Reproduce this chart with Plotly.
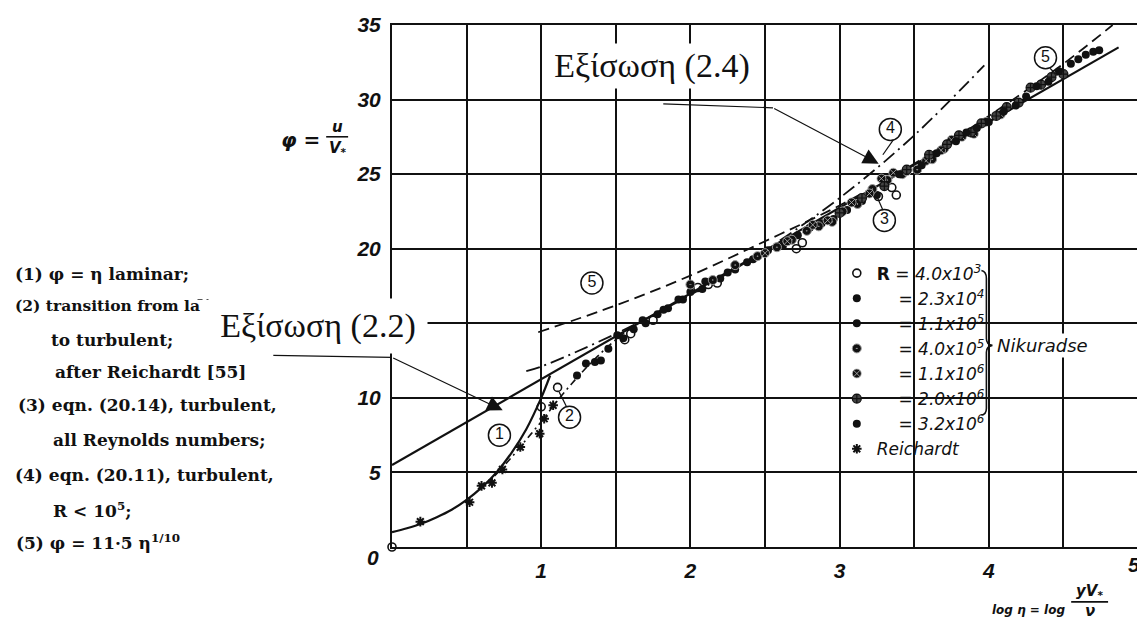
import plotly.graph_objects as go

# ------------------------------------------------------------------ data
# theory curves
lam_x = [0.0, 0.1, 0.2, 0.3, 0.4, 0.5, 0.6, 0.7, 0.8, 0.9, 1.0, 1.06]          # (1) laminar
lam_y = [1.0, 1.26, 1.58, 2.0, 2.5, 3.16, 3.98, 5.0, 6.3, 7.9, 10.0, 11.5]
tr_x = [0.6, 0.7, 0.8, 0.9, 1.0, 1.1, 1.2, 1.3, 1.4, 1.5, 1.6]                # (2) transition
tr_y = [4.0, 4.9, 6.0, 7.2, 8.4, 9.7, 10.9, 12.0, 13.0, 13.9, 14.7]
log_x = [0.0, 4.87]                                                            # (3) log law
log_y = [5.5, 33.5]
p7_x = [0.9, 1.0, 1.5, 2.0, 2.5, 3.0, 3.5, 3.97]                               # (4) 1/7 law
p7_y = [11.8, 12.1, 14.3, 16.9, 19.9, 23.4, 27.6, 32.3]
p10_x = [0.98, 1.5, 2.0, 2.5, 3.0, 3.5, 4.0, 4.5, 4.83]                        # (5) 1/10 law
p10_y = [14.4, 16.2, 18.2, 20.5, 22.9, 25.7, 28.9, 32.4, 35.0]

# measured points
r40e3_x = [0.0, 1.0, 1.11, 1.56, 1.6, 1.75, 2.05, 2.12, 2.18, 2.71, 2.75, 3.26, 3.3, 3.35, 3.38]
r40e3_y = [0.0, 9.4, 10.7, 13.9, 14.3, 15.2, 17.4, 17.6, 17.7, 20.0, 20.4, 23.5, 24.3, 24.1, 23.6]
r23e4_x = [1.24, 1.30, 1.36, 1.45, 1.51, 1.62, 1.70, 1.78, 1.85, 1.92, 2.0, 2.08, 2.2, 2.3, 2.42, 2.52]
r23e4_y = [11.5, 12.3, 12.4, 13.3, 14.2, 14.6, 15.0, 15.6, 16.0, 16.6, 17.1, 17.3, 18.0, 18.6, 19.3, 19.9]
r11e5_x = [1.4, 1.55, 1.68, 1.82, 1.95, 2.1, 2.25, 2.38, 2.5, 2.62, 2.72, 2.8, 2.88, 2.96, 3.05, 3.15, 3.25]
r11e5_y = [12.5, 14.0, 15.2, 15.9, 16.6, 17.8, 18.4, 19.1, 19.8, 20.2, 20.9, 21.4, 21.7, 22.0, 22.6, 23.2, 23.6]
r40e5_x = [2.0, 2.15, 2.3, 2.45, 2.58, 2.68, 2.78, 2.86, 2.95, 3.02, 3.12, 3.22, 3.32, 3.42, 3.52, 3.62, 3.7]
r40e5_y = [17.6, 17.9, 18.9, 19.5, 20.1, 20.6, 21.2, 21.5, 21.8, 22.5, 23.0, 24.0, 24.6, 25.0, 25.3, 26.0, 26.7]
r11e6_x = [2.5, 2.65, 2.82, 2.92, 3.08, 3.2, 3.28, 3.36, 3.45, 3.58, 3.68, 3.75, 3.82, 3.9, 3.98, 4.08]
r11e6_y = [19.7, 20.5, 21.6, 21.9, 23.1, 23.7, 24.7, 25.1, 25.2, 25.9, 26.6, 27.3, 27.5, 27.7, 28.5, 29.0]
r20e6_x = [3.0, 3.15, 3.3, 3.45, 3.6, 3.72, 3.8, 3.88, 3.95, 4.05, 4.12, 4.2, 4.28, 4.35, 4.42, 4.5]
r20e6_y = [22.4, 23.4, 24.2, 25.3, 26.3, 27.0, 27.6, 27.8, 28.4, 28.9, 29.5, 29.8, 30.8, 31.0, 31.5, 31.7]
r32e6_x = [3.4, 3.55, 3.65, 3.78, 3.85, 3.92, 4.0, 4.1, 4.18, 4.25, 4.32, 4.4, 4.47, 4.55, 4.6, 4.65, 4.7, 4.74]
r32e6_y = [25.0, 25.6, 26.4, 27.2, 27.8, 28.1, 28.5, 29.2, 29.6, 30.2, 30.9, 31.2, 31.9, 32.4, 32.7, 33.0, 33.2, 33.3]
reich_x = [0.19, 0.52, 0.60, 0.67, 0.74, 0.86, 0.99, 1.02, 1.08]
reich_y = [1.7, 3.0, 4.1, 4.3, 5.2, 6.7, 7.6, 8.6, 9.5]

series_names = [
    "<b><span style='font-style:normal'>R</span></b> = 4.0x10<sup>3</sup>",
    "\u00a0\u00a0\u00a0\u00a0= 2.3x10<sup>4</sup>",
    "\u00a0\u00a0\u00a0\u00a0= 1.1x10<sup>5</sup>",
    "\u00a0\u00a0\u00a0\u00a0= 4.0x10<sup>5</sup>",
    "\u00a0\u00a0\u00a0\u00a0= 1.1x10<sup>6</sup>",
    "\u00a0\u00a0\u00a0\u00a0= 2.0x10<sup>6</sup>",
    "\u00a0\u00a0\u00a0\u00a0= 3.2x10<sup>6</sup>",
    "Reichardt",
]

# circled curve labels
lab_text = ["1", "2", "3", "4", "5", "5"]
lab_x = [0.72, 1.19, 3.30, 3.34, 1.34, 4.38]
lab_y = [7.5, 8.7, 21.9, 28.0, 17.7, 32.8]

# axes ticks ("15" is hidden under the label box in the reference)
x_tick_vals = [0.5, 1.0, 1.5, 2.0, 2.5, 3.0, 3.5, 4.0, 4.5, 5.0]
x_tick_text = ["", "1", "", "2", "", "3", "", "4", "", ""]
y_tick_vals = [5, 10, 15, 20, 25, 30, 35]
y_tick_text = ["5", "10", "", "20", "25", "30", "35"]

left_lines = [
    "(1) \u03c6 = \u03b7 laminar;",
    "(2) transition from la",
    "to turbulent;",
    "after Reichardt [55]",
    "(3) eqn. (20.14), turbulent,",
    "all Reynolds numbers;",
    "(4) eqn. (20.11), turbulent,",
    "R < 10<sup>5</sup>;",
    "(5) \u03c6 = 11\u00b75 \u03b7<sup>1/10</sup>",
]

# ------------------------------------------------------------------ geometry
# the page body has an 8px margin, so the figure is made 8px smaller
OFF = 8
W, H = 1145 - OFF, 619 - OFF
L, T, R_, B = 392 - OFF, 24 - OFF, 5, 72
PW, PH = W - L - R_, H - T - B          # 748 x 523
X0, Y0 = 392, 547                       # window pixel of data (0, 0)


def PX(p):
    return (p - X0) / PW


def PY(p):
    return (Y0 - p) / PH


INK = "#111111"
fig = go.Figure()

# theory curves
fig.add_trace(go.Scatter(x=lam_x, y=lam_y, mode="lines", showlegend=False, hoverinfo="skip",
                         line=dict(color=INK, width=2.2, shape="spline")))
fig.add_trace(go.Scatter(x=tr_x, y=tr_y, mode="lines", showlegend=False, hoverinfo="skip",
                         line=dict(color=INK, width=1.6, dash="7px,4px,2px,4px", shape="spline")))
fig.add_trace(go.Scatter(x=log_x, y=log_y, mode="lines", showlegend=False, hoverinfo="skip",
                         line=dict(color=INK, width=2.2)))
fig.add_trace(go.Scatter(x=p7_x, y=p7_y, mode="lines", showlegend=False, hoverinfo="skip",
                         line=dict(color=INK, width=1.8, dash="14px,5px,2px,5px", shape="spline")))
fig.add_trace(go.Scatter(x=p10_x, y=p10_y, mode="lines", showlegend=False, hoverinfo="skip",
                         line=dict(color=INK, width=1.8, dash="11px,6px", shape="spline")))

# measured points
styles = [
    dict(symbol="circle-open", color=INK, size=8, line=dict(width=1.6, color=INK)),
    dict(symbol="circle", color=INK, size=8, line=dict(width=0)),
    dict(symbol="circle", color=INK, size=8, line=dict(width=0)),
    dict(symbol="circle-dot", color=INK, size=9, line=dict(width=1, color="#9a9a9a")),
    dict(symbol="circle-x", color=INK, size=9, line=dict(width=0.8, color="#bbbbbb")),
    dict(symbol="circle-cross", color="#444444", size=9, line=dict(width=1.2, color=INK)),
    dict(symbol="circle", color=INK, size=8, line=dict(width=0)),
    dict(symbol="asterisk-open", color=INK, size=8, line=dict(width=2, color=INK)),
]
xs = [r40e3_x, r23e4_x, r11e5_x, r40e5_x, r11e6_x, r20e6_x, r32e6_x, reich_x]
ys = [r40e3_y, r23e4_y, r11e5_y, r40e5_y, r11e6_y, r20e6_y, r32e6_y, reich_y]
for nm, sx, sy, st in zip(series_names, xs, ys, styles):
    fig.add_trace(go.Scatter(x=sx, y=sy, mode="markers", name=nm, marker=st, cliponaxis=False))

# circled labels
fig.add_trace(go.Scatter(x=lab_x, y=lab_y, mode="markers+text", text=lab_text, showlegend=False,
                         hoverinfo="skip", textposition="middle center",
                         marker=dict(symbol="circle", size=22, color="white", line=dict(width=1.5, color=INK)),
                         textfont=dict(family="Liberation Sans", size=16, color=INK)))

shapes = []
# white area behind the legend (hides the grid there)
shapes.append(dict(type="rect", xref="paper", yref="paper", x0=PX(838), x1=PX(1008), y0=PY(462), y1=PY(253),
                   fillcolor="white", line=dict(width=0), layer="between"))
# label leader lines (data coords)
for (a, b, c, d) in [(1.17, 9.4, 1.12, 10.4), (3.29, 22.6, 3.25, 23.5),
                     (3.36, 27.3, 3.29, 26.3), (4.41, 32.1, 4.46, 31.6)]:
    shapes.append(dict(type="line", xref="x", yref="y", x0=a, y0=b, x1=c, y1=d,
                       line=dict(color=INK, width=1.2), layer="above"))
# horizontal parts of the arrow leaders
for (a, b, c, d) in [(273, 355, 392, 357), (664, 103, 774, 107)]:
    shapes.append(dict(type="line", xref="paper", yref="paper", x0=PX(a), y0=PY(b), x1=PX(c), y1=PY(d),
                       line=dict(color=INK, width=1.2), layer="above"))
# dashed residue after "la"
shapes.append(dict(type="line", xref="paper", yref="paper", x0=PX(197), y0=PY(299), x1=PX(282), y1=PY(299),
                   line=dict(color="#555", width=1.1, dash="5px,4px"), layer="above"))
# fraction bars of axis titles
shapes.append(dict(type="line", xref="paper", yref="paper", x0=PX(326), y0=PY(136), x1=PX(348), y1=PY(136),
                   line=dict(color=INK, width=1.6), layer="above"))
shapes.append(dict(type="line", xref="paper", yref="paper", x0=PX(1073), y0=PY(602), x1=PX(1110), y1=PY(602),
                   line=dict(color=INK, width=1.6), layer="above"))
# brace for Nikuradse
path = (f"M {PX(983)},{PY(270)} Q {PX(988)},{PY(271)} {PX(988)},{PY(278)} "
        f"L {PX(988)},{PY(338)} Q {PX(988)},{PY(344)} {PX(994)},{PY(345)} "
        f"Q {PX(988)},{PY(346)} {PX(988)},{PY(352)} L {PX(988)},{PY(408)} "
        f"Q {PX(988)},{PY(414)} {PX(983)},{PY(415)}")
shapes.append(dict(type="path", xref="paper", yref="paper", path=path,
                   line=dict(color=INK, width=1.6), layer="above"))

annotations = []
left_pos = [(12, 273), (12, 305), (48, 340), (52, 372), (15, 405), (50, 440), (12, 475), (50, 510), (13, 542)]
left_size = [17, 15.5, 17, 17, 17, 17, 17, 17, 17]
for txt, (px, py), fs in zip(left_lines, left_pos, left_size):
    annotations.append(dict(text=txt, x=PX(px), y=PY(py), xref="paper", yref="paper", showarrow=False,
                            xanchor="left", yanchor="middle",
                            font=dict(family="DejaVu Serif", size=fs, color=INK, weight="bold")))

greek = dict(family="Liberation Serif", size=34, color=INK)
annotations.append(dict(text="\u0395\u03be\u03af\u03c3\u03c9\u03c3\u03b7 (2.2)", x=PX(318), y=PY(326),
                        xref="paper", yref="paper", showarrow=False, xanchor="center", yanchor="middle",
                        width=216, height=52, bgcolor="white", font=greek))
annotations.append(dict(text="\u0395\u03be\u03af\u03c3\u03c9\u03c3\u03b7 (2.4)", x=PX(653), y=PY(65),
                        xref="paper", yref="paper", showarrow=False, xanchor="center", yanchor="middle",
                        width=212, height=42, bgcolor="white", font=greek))
# arrows
annotations.append(dict(text="", x=PX(503), y=PY(410), xref="paper", yref="paper", showarrow=True,
                        ax=-111, ay=-53, arrowhead=2, arrowsize=2.6, arrowwidth=1.2, arrowcolor=INK, standoff=0))
annotations.append(dict(text="", x=PX(880), y=PY(163), xref="paper", yref="paper", showarrow=True,
                        ax=-106, ay=-56, arrowhead=2, arrowsize=2.6, arrowwidth=1.2, arrowcolor=INK, standoff=0))

tickf = dict(family="Liberation Sans", size=21, color=INK, style="italic", weight="bold")
annotations.append(dict(text="0", x=PX(373), y=PY(558), xref="paper", yref="paper", showarrow=False,
                        xanchor="center", yanchor="middle", font=tickf))
annotations.append(dict(text="5", x=PX(1144), y=PY(565), xref="paper", yref="paper", showarrow=False,
                        xanchor="right", yanchor="middle", font=tickf))
# y title
tf = dict(family="DejaVu Sans", size=15, color=INK, style="italic", weight="bold")
annotations.append(dict(text="\u03c6 =", x=PX(322), y=PY(139), xref="paper", yref="paper", showarrow=False,
                        xanchor="right", yanchor="middle",
                        font=dict(family="DejaVu Sans", size=20, color=INK, style="italic", weight="bold")))
annotations.append(dict(text="u", x=PX(337), y=PY(126), xref="paper", yref="paper", showarrow=False,
                        xanchor="center", yanchor="middle", font=tf))
annotations.append(dict(text="V<sub>*</sub>", x=PX(338), y=PY(148), xref="paper", yref="paper", showarrow=False,
                        xanchor="center", yanchor="middle", font=tf))
# x title
annotations.append(dict(text="log \u03b7 = log", x=PX(1069), y=PY(610), xref="paper", yref="paper",
                        showarrow=False, xanchor="right", yanchor="middle",
                        font=dict(family="DejaVu Sans", size=12, color=INK, style="italic", weight="bold")))
annotations.append(dict(text="yV<sub>*</sub>", x=PX(1091), y=PY(592), xref="paper", yref="paper",
                        showarrow=False, xanchor="center", yanchor="middle", font=tf))
annotations.append(dict(text="\u03bd", x=PX(1092), y=PY(611), xref="paper", yref="paper",
                        showarrow=False, xanchor="center", yanchor="middle", font=tf))
# Nikuradse
annotations.append(dict(text="Nikuradse", x=PX(997), y=PY(345), xref="paper", yref="paper", showarrow=False,
                        xanchor="left", yanchor="middle", bgcolor="white",
                        font=dict(family="DejaVu Sans", size=18, color=INK, style="italic")))

axis_common = dict(showgrid=True, gridcolor=INK, gridwidth=1.5, showline=True, linecolor=INK, linewidth=2,
                   mirror=True, zeroline=False, ticks="", tickfont=tickf, tickmode="array", fixedrange=True)

fig.update_layout(
    width=W, height=H, autosize=False,
    margin=dict(l=L, r=R_, t=T, b=B, pad=0),
    paper_bgcolor="white", plot_bgcolor="white",
    xaxis=dict(range=[0, 5], tickvals=x_tick_vals, ticktext=x_tick_text, ticklabelstandoff=4, **axis_common),
    yaxis=dict(range=[0, 35], tickvals=y_tick_vals, ticktext=y_tick_text, ticklabelstandoff=5, **axis_common),
    showlegend=True,
    legend=dict(x=PX(838), y=PY(255), xanchor="left", yanchor="top", bgcolor="rgba(0,0,0,0)", borderwidth=0,
                font=dict(family="DejaVu Sans", size=17, color=INK, style="italic"),
                tracegroupgap=0, itemwidth=30),
    shapes=shapes, annotations=annotations,
)

fig.write_html("out.html")
